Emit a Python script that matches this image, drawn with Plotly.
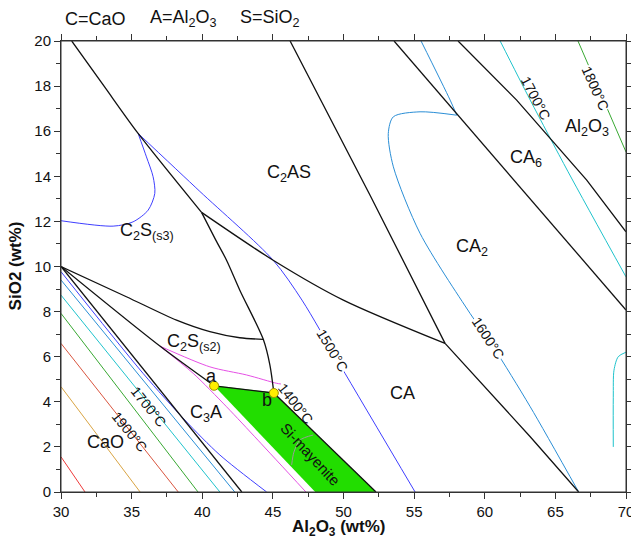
import plotly.graph_objects as go

# ---------------- data (wt% Al2O3, wt% SiO2) ----------------
# black phase-boundary lines
bnd_top_x = [30.76, 33.1, 35.46, 39.95]
bnd_top_y = [20.0, 17.95, 15.90, 12.40]
bnd_c2as_ca_x = [39.95, 45.02, 49.99, 57.19]
bnd_c2as_ca_y = [12.40, 10.28, 8.51, 6.59]
bnd_to_b_x = [39.95, 40.96, 41.72, 42.66, 44.32, 44.79, 45.07]
bnd_to_b_y = [12.40, 11.17, 10.28, 8.95, 6.77, 5.63, 4.39]
bnd_s2_top_x = [30.0, 34.63, 38.18, 40.54, 42.66, 44.32]
bnd_s2_top_y = [10.0, 8.66, 7.62, 7.11, 6.84, 6.77]
bnd_to_a_x = [30.0, 37.0, 40.84]
bnd_to_a_y = [10.0, 6.47, 4.71]
bnd_cao_x = [30.0, 42.8]
bnd_cao_y = [10.0, 0.0]
bnd_ca_ca2_x = [46.22, 51.88, 57.19]
bnd_ca_ca2_y = [20.0, 13.16, 6.59]
bnd_ca_low_x = [57.19, 63.22, 66.65]
bnd_ca_low_y = [6.59, 2.45, 0.0]
bnd_ca2_ca6_x = [53.58, 57.19, 69.59, 70.0]
bnd_ca2_ca6_y = [20.0, 17.38, 8.36, 8.07]
bnd_ca6_al_x = [58.11, 62.26, 67.22, 70.0]
bnd_ca6_al_y = [20.0, 17.38, 13.83, 11.54]
bnd_ab_x = [40.84, 45.07]
bnd_ab_y = [4.71, 4.39]
bnd_b_low_x = [45.07, 52.3]
bnd_b_low_y = [4.39, 0.0]

# Si-mayenite field
simay_x = [40.84, 45.07, 52.3, 48.0]
simay_y = [4.71, 4.39, 0.0, 0.0]

# invariant points a, b
pts_x = [40.84, 45.07]
pts_y = [4.71, 4.39]

# isotherms
iso1400_up_x = [37.0, 40.54, 43.14, 45.27, 45.57]
iso1400_up_y = [6.47, 5.55, 5.19, 4.82, 4.79]
iso1400_lo_x = [37.0, 39.36, 41.72, 43.94, 47.34]
iso1400_lo_y = [6.47, 5.26, 3.78, 2.30, 0.0]
iso1300_x = [46.33, 46.49, 46.91, 47.86]
iso1300_y = [1.20, 1.77, 2.30, 2.53]
iso1500_loop_x = [30.0, 33.69, 35.10, 36.17, 36.64, 36.52, 36.05, 35.46]
iso1500_loop_y = [12.03, 11.79, 11.98, 12.50, 13.24, 13.98, 14.86, 15.90]
iso1500_x = [35.46, 39.83, 45.02, 47.06, 49.76, 55.07]
iso1500_y = [15.90, 13.33, 10.28, 8.51, 5.63, 0.0]
iso1500_cao_x = [30.0, 35.81, 38.77, 41.25, 44.56]
iso1500_cao_y = [9.77, 5.26, 3.19, 1.64, 0.0]
iso1600_top_x = [55.49, 57.55, 58.02]
iso1600_top_y = [20.0, 17.38, 16.71]
iso1600_x = [58.02, 55.42, 53.53, 53.17, 53.53, 55.42, 58.96, 60.61, 63.22, 66.65]
iso1600_y = [16.71, 16.86, 16.64, 15.90, 14.42, 11.47, 7.92, 6.43, 3.78, 0.0]
iso1600_cao_x = [30.0, 42.3]
iso1600_cao_y = [9.4, 0.0]
iso1700_x = [61.09, 63.22, 65.9, 70.0]
iso1700_y = [20.0, 17.38, 14.2, 9.54]
iso1700_low_x = [70.0, 69.45, 69.15, 69.1, 69.1]
iso1700_low_y = [6.2, 6.0, 5.4, 4.2, 2.0]
iso1700_cao_x = [30.0, 41.25]
iso1700_cao_y = [8.73, 0.0]
iso1800_x = [66.6, 70.0]
iso1800_y = [20.0, 15.08]
iso1800_cao_x = [30.0, 39.7]
iso1800_cao_y = [7.92, 0.0]
iso1900_cao_x = [30.0, 38.3]
iso1900_cao_y = [6.59, 0.0]
iso2000_cao_x = [30.0, 35.6]
iso2000_cao_y = [4.67, 0.0]
iso2100_cao_x = [30.0, 31.7]
iso2100_cao_y = [1.56, 0.0]

# text labels
field_text = ["C<sub>2</sub>AS", "C<sub>2</sub>S<sub>(s3)</sub>", "C<sub>2</sub>S<sub>(s2)</sub>",
              "C<sub>3</sub>A", "CaO", "CA", "CA<sub>2</sub>", "CA<sub>6</sub>",
              "Al<sub>2</sub>O<sub>3</sub>", "a", "b"]
field_x = [46.15, 36.11, 39.40, 40.26, 33.17, 54.18, 59.11, 62.93, 67.26, 40.68, 44.61]
field_y = [14.14, 11.54, 6.65, 3.46, 2.22, 4.41, 10.86, 14.80, 16.18, 5.14, 4.06]

iso_text = ["1400°C", "1500°C", "1600°C", "1700°C", "1800°C", "1700°C", "1900°C"]
iso_x = [46.63, 49.19, 60.24, 63.59, 67.82, 36.22, 34.87]
iso_y = [3.90, 6.29, 6.83, 17.46, 17.91, 3.77, 2.66]
iso_angle = [52, 59, 57, 62, 66, 51, 51]
iso_bg = [False, True, True, False, True, False, False]

x_ticks = [30, 35, 40, 45, 50, 55, 60, 65, 70]
y_ticks = [0, 2, 4, 6, 8, 10, 12, 14, 16, 18, 20]

# ---------------- figure ----------------
FONT = "Liberation Sans, Arial, sans-serif"
fig = go.Figure()


def line(x, y, color, width=1.0, spline=True):
    fig.add_trace(go.Scatter(x=x, y=y, mode="lines", hoverinfo="skip",
                             line=dict(color=color, width=width,
                                       shape="spline" if spline else "linear",
                                       smoothing=0.8),
                             showlegend=False))


BLUE = "#3f3fff"
LBLUE = "#2a8ed6"
CYAN = "#1fc3cc"
GREEN = "#38a832"
RED = "#d9553f"
GOLD = "#d9a443"
RED2 = "#ee3a3a"
MAG = "#e650e6"

# isotherms
line(iso2100_cao_x, iso2100_cao_y, RED2, spline=False)
line(iso2000_cao_x, iso2000_cao_y, GOLD, spline=False)
line(iso1900_cao_x, iso1900_cao_y, RED, spline=False)
line(iso1800_cao_x, iso1800_cao_y, GREEN, spline=False)
line(iso1700_cao_x, iso1700_cao_y, CYAN, spline=False)
line(iso1600_cao_x, iso1600_cao_y, LBLUE, spline=False)
line(iso1500_cao_x, iso1500_cao_y, BLUE)
line(iso1500_loop_x, iso1500_loop_y, BLUE)
line(iso1500_x, iso1500_y, BLUE)
line(iso1600_top_x, iso1600_top_y, LBLUE)
line(iso1600_x, iso1600_y, LBLUE)
line(iso1700_x, iso1700_y, CYAN)
line(iso1700_low_x, iso1700_low_y, CYAN)
line(iso1800_x, iso1800_y, GREEN, spline=False)
line(iso1400_up_x, iso1400_up_y, MAG)
line(iso1400_lo_x, iso1400_lo_y, MAG)

# Si-mayenite field
fig.add_trace(go.Scatter(x=simay_x, y=simay_y, mode="lines", fill="toself",
                         fillcolor="#22dd00", line=dict(color="#22dd00", width=0.5),
                         hoverinfo="skip", showlegend=False))
line(iso1300_x, iso1300_y, "#9a9a9a")

# phase boundaries
K = "#111111"
W = 1.3
line(bnd_top_x, bnd_top_y, K, W)
line(bnd_c2as_ca_x, bnd_c2as_ca_y, K, W)
line(bnd_to_b_x, bnd_to_b_y, K, W)
line(bnd_s2_top_x, bnd_s2_top_y, K, W)
line(bnd_to_a_x, bnd_to_a_y, K, W)
line(bnd_cao_x, bnd_cao_y, K, W, spline=False)
line(bnd_ca_ca2_x, bnd_ca_ca2_y, K, W, spline=False)
line(bnd_ca_low_x, bnd_ca_low_y, K, W, spline=False)
line(bnd_ca2_ca6_x, bnd_ca2_ca6_y, K, W, spline=False)
line(bnd_ca6_al_x, bnd_ca6_al_y, K, W, spline=False)
line(bnd_ab_x, bnd_ab_y, K, W, spline=False)
line(bnd_b_low_x, bnd_b_low_y, K, W, spline=False)

# points a, b
fig.add_trace(go.Scatter(x=pts_x, y=pts_y, mode="markers", hoverinfo="skip",
                         marker=dict(size=9, color="#ffee00",
                                     line=dict(color="#a09000", width=1)),
                         showlegend=False))

# field labels
for t, x, y in zip(field_text, field_x, field_y):
    fig.add_annotation(x=x, y=y, text=t, showarrow=False,
                       font=dict(family=FONT, size=18, color="#111"))

# isotherm labels
for t, x, y, a, bg in zip(iso_text, iso_x, iso_y, iso_angle, iso_bg):
    fig.add_annotation(x=x, y=y, text=t, showarrow=False, textangle=a,
                       bgcolor="white" if bg else None, borderpad=0,
                       font=dict(family=FONT, size=14, color="#111"))

fig.add_annotation(x=47.69, y=1.68, text="Si-mayenite", showarrow=False,
                   textangle=47, font=dict(family=FONT, size=15, color="#111"))

# header legend text
for t, px in [("C=CaO", 0.003), ("A=Al<sub>2</sub>O<sub>3</sub>", 0.1536),
              ("S=SiO<sub>2</sub>", 0.3131)]:
    fig.add_annotation(xref="paper", yref="paper", x=px, y=1.049, text=t,
                       showarrow=False, xanchor="left", yanchor="middle",
                       font=dict(family=FONT, size=18, color="#111"))

# axis titles (placed as annotations so the margins stay fixed)
fig.add_annotation(xref="paper", yref="paper", x=0.492, y=-0.080,
                   text="<b>Al<sub>2</sub>O<sub>3</sub> (wt%)</b>", showarrow=False,
                   xanchor="center", yanchor="middle",
                   font=dict(family=FONT, size=17, color="#111"))
fig.add_annotation(xref="paper", yref="paper", x=-0.080, y=0.502,
                   text="<b>SiO2 (wt%)</b>", showarrow=False, textangle=-90,
                   xanchor="center", yanchor="middle",
                   font=dict(family=FONT, size=17, color="#111"))

# explicit frame around the plotting area
fig.add_shape(type="rect", xref="paper", yref="paper", x0=0, y0=0, x1=1, y1=1,
              line=dict(color="#333", width=1), layer="above")

axis_common = dict(showline=True, linecolor="#333", linewidth=1, mirror="ticks",
                   ticks="outside", ticklen=6, tickcolor="#333", showgrid=False,
                   zeroline=False, automargin=False, ticklabeloverflow="allow",
                   tickfont=dict(family=FONT, size=15, color="#111"))

fig.update_xaxes(range=[30, 70], tickvals=x_ticks,
                 minor=dict(dtick=2.5, ticks="outside", ticklen=4, tickcolor="#333",
                            showgrid=False),
                 **axis_common)
fig.update_yaxes(range=[0, 20], tickvals=y_ticks,
                 minor=dict(dtick=1, ticks="outside", ticklen=4, tickcolor="#333",
                            showgrid=False),
                 **axis_common)

fig.update_layout(width=631, height=542, margin=dict(l=61, r=5, t=41, b=50, autoexpand=False),
                  plot_bgcolor="white", paper_bgcolor="white",
                  font=dict(family=FONT))

# remove the default page margin / scrollbars so the figure fills the window exactly
fig.write_html("out.html", config={"displayModeBar": False}, post_script=(
    "document.body.style.margin='0';"
    "document.body.style.overflow='hidden';"
    "document.documentElement.style.overflow='hidden';"))
